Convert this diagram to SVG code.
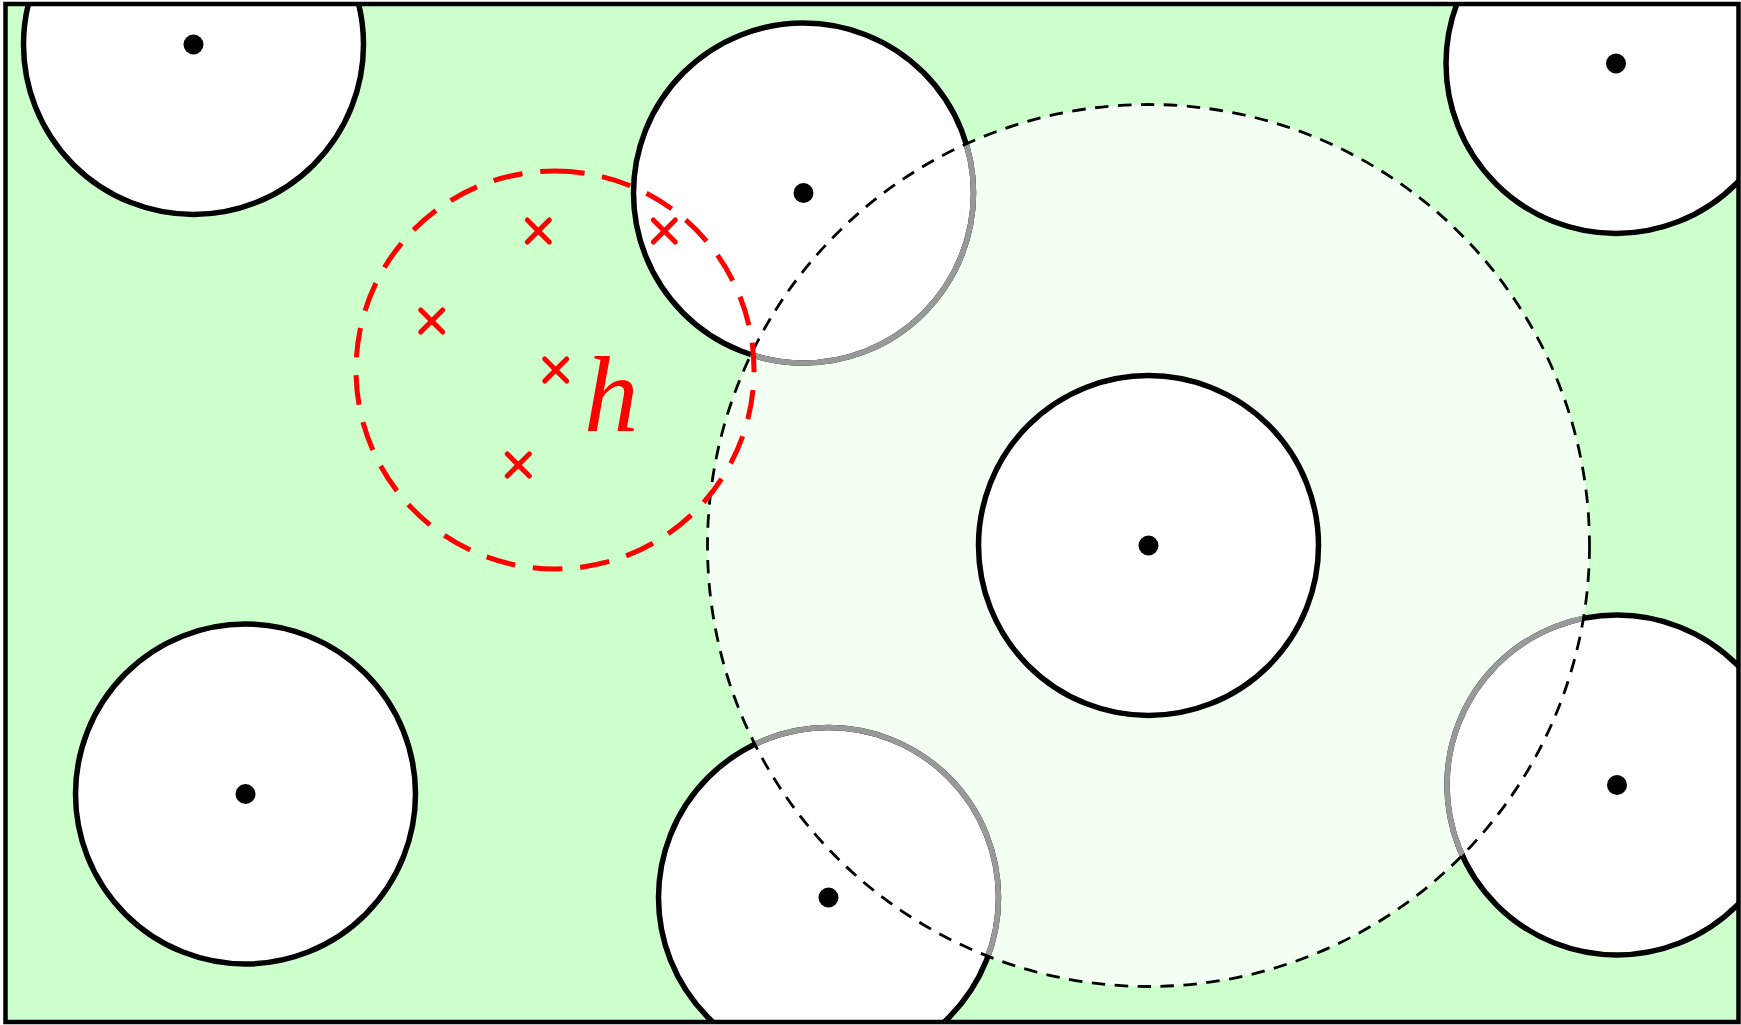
<svg xmlns="http://www.w3.org/2000/svg" xmlns:xlink="http://www.w3.org/1999/xlink" width="1741" height="1025" viewBox="0 0 1741 1025">
  <style>
    .disk { fill: #ffffff; stroke: #000000; stroke-width: 5.5; }
    .grayarc { fill: none; stroke: #999999; stroke-width: 5.5; }
    .dot { fill: #000000; }
    .cross { stroke: #ff0000; stroke-width: 5; stroke-linecap: round; fill: none; }
    .label { font-family: "Liberation Serif", "Times New Roman", serif; font-style: italic; font-size: 109px; fill: #ff0000; }
  </style>
  <defs>
    <clipPath id="frame">
      <rect x="5.5" y="4" width="1733" height="1018"/>
    </clipPath>
    <clipPath id="bigdisk">
      <circle cx="1148.5" cy="545.5" r="441"/>
    </clipPath>
    <g id="xmark">
      <line class="cross" x1="-11" y1="-11" x2="11" y2="11"/>
      <line class="cross" x1="-11" y1="11" x2="11" y2="-11"/>
    </g>
  </defs>

  <g id="area" clip-path="url(#frame)">
    <rect id="background" x="5.5" y="4" width="1733" height="1018" fill="#ccffcc"/>
    <circle id="range" cx="1148.5" cy="545.5" r="441" fill="#f2fff2"/>

    <g id="disk-topleft">
      <circle class="disk" cx="193.5" cy="44.5" r="170"/>
      <circle class="dot" cx="193.5" cy="44.5" r="10"/>
    </g>
    <g id="disk-topmiddle">
      <circle class="disk" cx="803.5" cy="193" r="170"/>
      <circle class="grayarc" cx="803.5" cy="193" r="170" clip-path="url(#bigdisk)"/>
      <circle class="dot" cx="803.5" cy="193" r="10"/>
    </g>
    <g id="disk-topright">
      <circle class="disk" cx="1616" cy="63.5" r="170"/>
      <circle class="dot" cx="1616" cy="63.5" r="10"/>
    </g>
    <g id="disk-center">
      <circle class="disk" cx="1148.5" cy="545.5" r="170"/>
      <circle class="dot" cx="1148.5" cy="545.5" r="10"/>
    </g>
    <g id="disk-bottomleft">
      <circle class="disk" cx="245.5" cy="794" r="170"/>
      <circle class="dot" cx="245.5" cy="794" r="10"/>
    </g>
    <g id="disk-bottommiddle">
      <circle class="disk" cx="828.5" cy="897.5" r="170"/>
      <circle class="grayarc" cx="828.5" cy="897.5" r="170" clip-path="url(#bigdisk)"/>
      <circle class="dot" cx="828.5" cy="897.5" r="10"/>
    </g>
    <g id="disk-bottomright">
      <circle class="disk" cx="1617" cy="785" r="170"/>
      <circle class="grayarc" cx="1617" cy="785" r="170" clip-path="url(#bigdisk)"/>
      <circle class="dot" cx="1617" cy="785" r="10"/>
    </g>

    <g id="range-outline">
      <circle cx="1148.5" cy="545.5" r="441" fill="none" stroke="#000000" stroke-width="2.8" stroke-dasharray="13.5 9.5"/>
    </g>

    <g id="window">
      <path d="M 555 171 A 199 199 0 1 1 555 569 A 199 199 0 1 1 555 171 Z" fill="none" stroke="#ff0000" stroke-width="5" pathLength="1263" stroke-dasharray="30 18"/>
      <use xlink:href="#xmark" x="538.3" y="231"/>
      <use xlink:href="#xmark" x="664.3" y="231"/>
      <use xlink:href="#xmark" x="431.7" y="321"/>
      <use xlink:href="#xmark" x="555.7" y="370"/>
      <use xlink:href="#xmark" x="518.3" y="465"/>
      <text class="label" x="584" y="431">h</text>
    </g>
  </g>

  <rect id="border" x="5.5" y="4" width="1733" height="1018" fill="none" stroke="#000000" stroke-width="4.5"/>
</svg>
